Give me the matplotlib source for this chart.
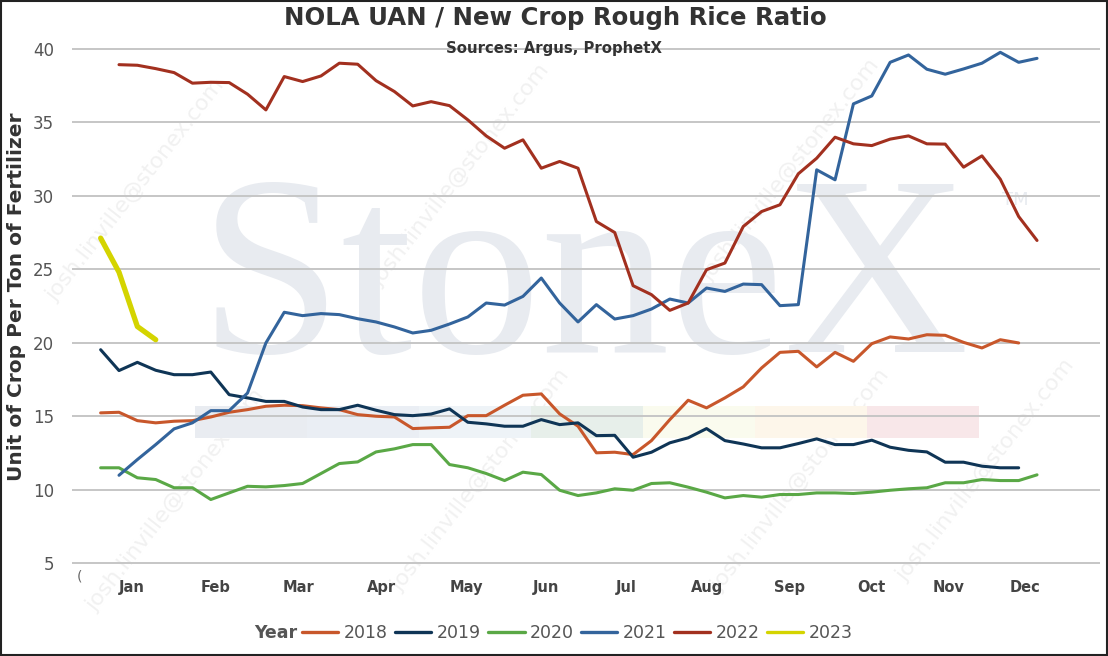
import matplotlib.pyplot as plt
from matplotlib.patches import Rectangle

# weekly ratio values, week index 0 = first week of January
weeks_2018 = list(range(0, 51))
vals_2018 = [15.22, 15.26, 14.69, 14.54, 14.65, 14.69, 14.94, 15.26, 15.44, 15.67,
             15.74, 15.71, 15.56, 15.44, 15.10, 14.99, 14.94, 14.15, 14.20, 14.24,
             15.03, 15.03, 15.74, 16.42, 16.51, 15.15, 14.31, 12.50, 12.54, 12.38,
             13.33, 14.76, 16.08, 15.56, 16.24, 16.99, 18.28, 19.34, 19.41, 18.35,
             19.34, 18.73, 19.93, 20.39, 20.25, 20.54, 20.50, 20.02, 19.64, 20.20,
             19.98]

weeks_2019 = list(range(0, 51))
vals_2019 = [19.52, 18.10, 18.66, 18.12, 17.82, 17.82, 18.00, 16.46, 16.24, 16.00,
             16.00, 15.62, 15.44, 15.44, 15.74, 15.40, 15.10, 15.03, 15.14, 15.49,
             14.58, 14.47, 14.31, 14.31, 14.76, 14.42, 14.54, 13.67, 13.69, 12.20,
             12.54, 13.18, 13.52, 14.15, 13.33, 13.10, 12.84, 12.84, 13.13, 13.45,
             13.06, 13.06, 13.36, 12.88, 12.67, 12.56, 11.86, 11.86, 11.59, 11.48,
             11.48]

weeks_2020 = list(range(0, 52))
vals_2020 = [11.48, 11.48, 10.80, 10.68, 10.12, 10.12, 9.32, 9.77, 10.22, 10.18,
             10.27, 10.41, 11.09, 11.77, 11.88, 12.56, 12.77, 13.06, 13.06, 11.70,
             11.48, 11.09, 10.61, 11.18, 11.02, 9.95, 9.59, 9.77, 10.05, 9.95,
             10.41, 10.46, 10.16, 9.82, 9.43, 9.59, 9.48, 9.66, 9.66, 9.77,
             9.77, 9.73, 9.82, 9.95, 10.05, 10.12, 10.46, 10.46, 10.68, 10.61,
             10.61, 11.00]

weeks_2021 = list(range(1, 52))
vals_2021 = [10.97, 12.04, 13.06, 14.13, 14.54, 15.37, 15.37, 16.57, 19.98, 22.07,
             21.84, 21.98, 21.91, 21.63, 21.41, 21.07, 20.66, 20.84, 21.27, 21.75,
             22.70, 22.56, 23.15, 24.40, 22.70, 21.41, 22.59, 21.61, 21.84, 22.29,
             22.97, 22.70, 23.72, 23.49, 23.99, 23.95, 22.52, 22.59, 31.77, 31.09,
             36.26, 36.80, 39.09, 39.59, 38.62, 38.28, 38.64, 39.03, 39.77, 39.09,
             39.36]

weeks_2022 = list(range(1, 52))
vals_2022 = [38.93, 38.89, 38.66, 38.39, 37.67, 37.73, 37.71, 36.92, 35.85, 38.12,
             37.78, 38.16, 39.03, 38.96, 37.84, 37.10, 36.12, 36.41, 36.14, 35.17,
             34.08, 33.24, 33.81, 31.88, 32.34, 31.88, 28.25, 27.50, 23.88, 23.27,
             22.20, 22.70, 24.97, 25.42, 27.91, 28.93, 29.39, 31.50, 32.56, 33.99,
             33.54, 33.42, 33.86, 34.08, 33.54, 33.52, 31.95, 32.72, 31.13, 28.59,
             26.96]

weeks_2023 = [0, 1, 2, 3]
vals_2023 = [27.12, 24.80, 21.10, 20.20]

years = ['2018', '2019', '2020', '2021', '2022', '2023']
colors = ['#c8572b', '#0f3556', '#5aa846', '#33649c', '#a2301f', '#d4d400']
series = [(weeks_2018, vals_2018), (weeks_2019, vals_2019), (weeks_2020, vals_2020),
          (weeks_2021, vals_2021), (weeks_2022, vals_2022), (weeks_2023, vals_2023)]

month_labels = ['Jan', 'Feb', 'Mar', 'Apr', 'May', 'Jun',
                'Jul', 'Aug', 'Sep', 'Oct', 'Nov', 'Dec']
month_ticks = [1.68, 6.24, 10.76, 15.27, 19.92, 24.27,
               28.63, 33.04, 37.53, 41.96, 46.19, 50.33]

W, H = 1108, 656
fig = plt.figure(figsize=(W / 100, H / 100), dpi=100)

def fx(px):
    return px / W

def fy(py):
    return 1 - py / H

ax = fig.add_axes([fx(72), fy(570), fx(1100) - fx(72), fy(35) - fy(570)])
ax.set_zorder(1)

# StoneX watermark
ax.text(fx(584), fy(352), 'StoneX', transform=fig.transFigure, family='Liberation Serif',
        fontsize=185, color='#e8ebf0', ha='center', va='baseline', zorder=0.1)
ax.text(fx(1015), fy(200), 'TM', transform=fig.transFigure, fontsize=13,
        color='#e8ebf0', ha='center', va='center', zorder=0.1)
band_cols = ['#e9ecf1', '#eaeef4', '#eef3f7', '#e7efea', '#fafbee', '#fdf6ea', '#f8e7e9']
bx = 194.6
for c in band_cols:
    ax.add_patch(Rectangle((fx(bx), fy(437.7)), 112 / W, 31.8 / H, transform=fig.transFigure,
                           facecolor=c, edgecolor='none', zorder=0.1))
    bx += 112

# faint e-mail watermark, behind the plot
for (px, py) in [(135, 190), (460, 175), (790, 170), (175, 500),
                 (480, 480), (800, 480), (985, 470)]:
    fig.text(fx(px), fy(py), 'josh.linville@stonex.com', rotation=52, fontsize=16,
             color='#f1f1f1', ha='center', va='center', zorder=0.2)

for (wk, v), yr, c in zip(series, years, colors):
    lw = 3.8 if yr == '2023' else 2.2
    ax.plot(wk, v, color=c, lw=lw, label=yr, solid_joinstyle='round',
            solid_capstyle='round', zorder=3)

ax.set_xlim(-1.56, 54.43)
ax.set_ylim(4.52, 40.95)
ax.set_yticks([5, 10, 15, 20, 25, 30, 35, 40])
ax.set_xticks(month_ticks)
ax.set_xticklabels(month_labels, fontsize=10.5, fontweight='bold', color='#444444')
ax.tick_params(axis='y', length=0, pad=13, labelsize=12, labelcolor='#555555')
ax.tick_params(axis='x', length=0, pad=7.5)
ax.grid(axis='y', color='#c6c6c6', lw=1.4)
ax.set_axisbelow(True)
for s in ax.spines.values():
    s.set_visible(False)
ax.patch.set_alpha(0)

fig.text(fx(80), fy(577), '(', fontsize=10, color='#666666', ha='center', va='center')

fig.text(fx(555), fy(18), 'NOLA UAN / New Crop Rough Rice Ratio', fontsize=17.6,
         fontweight='bold', color='#333333', ha='center', va='center')
fig.text(fx(554), fy(48), 'Sources: Argus, ProphetX', fontsize=10.7,
         fontweight='bold', color='#333333', ha='center', va='center')
fig.text(fx(17), fy(297), 'Unit of Crop Per Ton of Fertilizer', rotation=90,
         fontsize=14.5, fontweight='bold', color='#333333', ha='center', va='center')

fig.text(fx(297), fy(633), 'Year', fontsize=12.5, fontweight='bold', color='#555555',
         ha='right', va='center')
leg = fig.legend(loc='center left', bbox_to_anchor=(fx(302), fy(633)), ncol=6,
                 frameon=False, fontsize=12.5, handlelength=2.1, handletextpad=0.3,
                 columnspacing=0.42, borderpad=0, borderaxespad=0)
for t in leg.get_texts():
    t.set_color('#555555')
for h in leg.get_lines():
    h.set_linewidth(2.4)

fig.patches.append(Rectangle((0.001, 0.001), 0.998, 0.997, transform=fig.transFigure,
                             fill=False, edgecolor='#222222', lw=1.5))

fig.savefig('out.png', dpi=100)
